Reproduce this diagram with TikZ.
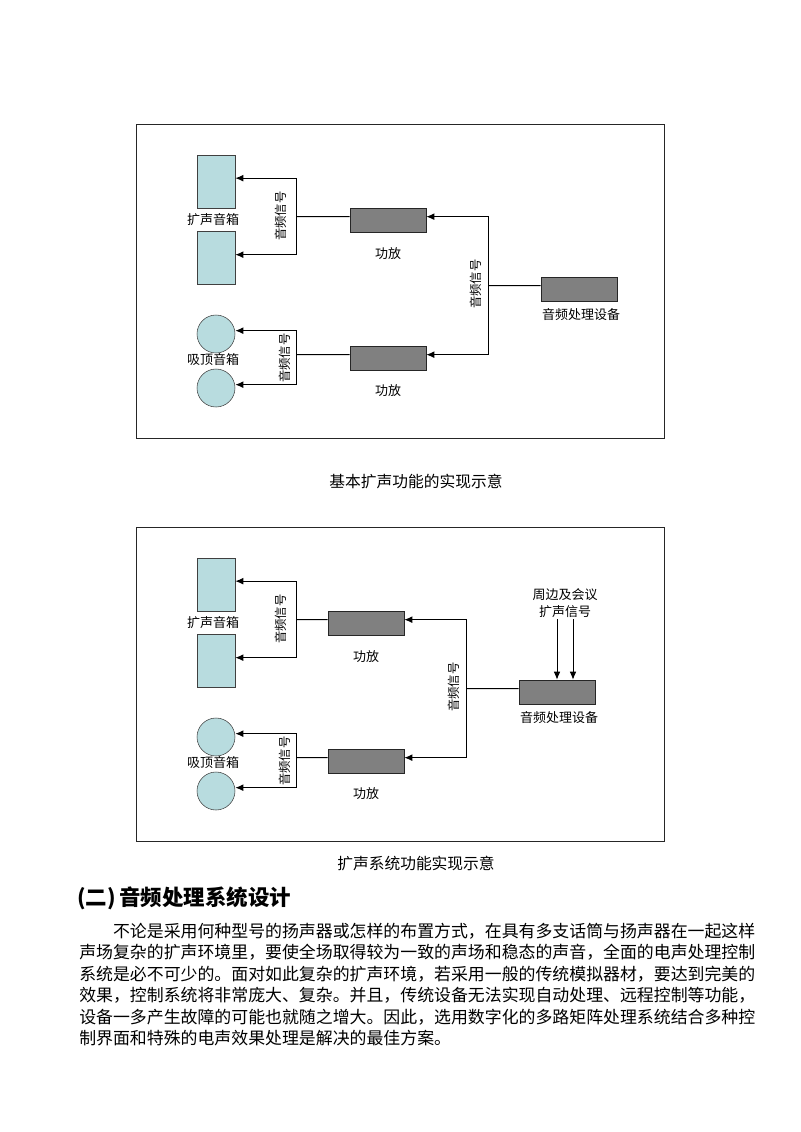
\documentclass[tikz,border=0pt]{standalone}
\usepackage{fontspec}
\newfontfamily\cjk{Noto Sans CJK SC}
\usepackage{xcolor}
\usetikzlibrary{arrows.meta}
\definecolor{boxcyan}{RGB}{184,220,223}
\definecolor{ampgray}{RGB}{128,128,128}

\begin{document}
\begin{tikzpicture}[x=0.75pt, y=-0.75pt,
  every node/.style={inner sep=0pt, font=\cjk\fontsize{9.75}{12.75}\selectfont},
  spk/.style={draw=black!75, fill=boxcyan, minimum width=28.5pt, minimum height=40pt},
  ceil/.style={circle, draw=black!75, fill=boxcyan, minimum size=28.5pt},
  amp/.style={draw=black!85, fill=ampgray, minimum width=57pt, minimum height=18pt},
  sig/.style={draw=black, line width=0.75pt, -{Latex[length=6pt,width=5pt]}},
  wire/.style={draw=black, line width=0.75pt},
  vlbl/.style={rotate=90, font=\cjk\fontsize{9.25}{10}\selectfont},
  capt/.style={font=\cjk\fontsize{11.8}{14}\selectfont},
  body/.style={anchor=west, font=\cjk\fontsize{12.675}{16}\selectfont}]
  \fill[white] (0,0) rectangle (800,1132);
  \useasboundingbox (0,0) rectangle (800,1132);

  % the two diagrams
  \foreach \k/\dx in {1/0, 2/-22} {
    \begin{scope}[shift={(0,{403*(\k-1)})}]
      \draw[black!85, line width=0.75pt] (136,124) rectangle (664,438);
      \node[spk] (spk\k a) at (216,181.5) {};
      \node[spk] (spk\k b) at (216,258) {};
      \node (lblspk\k) at (213,220) {扩声音箱};
      \node[ceil] (clg\k a) at (216,334) {};
      \node[ceil] (clg\k b) at (216,388) {};
      \node (lblclg\k) at (213,360) {吸顶音箱};
      \coordinate (up\k) at (296,216.67);
      \coordinate (lo\k) at (296,354.67);
      \node[vlbl] (sigup\k) at (281,216) {音频信号};
      \node[vlbl] (siglo\k) at (285,358) {音频信号};
      \begin{scope}[shift={(\dx,0)}]
        \node[amp] (amp\k a) at (388,220) {};
        \node[amp] (amp\k b) at (388,358) {};
        \node (lblamp\k a) at (388,254) {功放};
        \node (lblamp\k b) at (388,391) {功放};
        \node[amp] (dsp\k) at (579,289) {};
        \node (lbldsp\k) at (581,315) {音频处理设备};
        \coordinate (bus\k) at (488,285.67);
        \node[vlbl] (sigbus\k) at (476,284) {音频信号};
      \end{scope}
      \draw[sig] (up\k) |- ([yshift=2.5pt]spk\k a.east);
      \draw[sig] (up\k) |- ([yshift=2.5pt]spk\k b.east);
      \draw[sig] (lo\k) |- ([yshift=2.5pt]clg\k a.east);
      \draw[sig] (lo\k) |- ([yshift=2.5pt]clg\k b.east);
      \draw[wire] ([yshift=2.5pt]amp\k a.west) -- (up\k);
      \draw[wire] ([yshift=2.5pt]amp\k b.west) -- (lo\k);
      \draw[wire] ([yshift=2.5pt]dsp\k.west) -- (bus\k);
      \draw[sig] (bus\k) |- ([yshift=2.5pt]amp\k a.east);
      \draw[sig] (bus\k) |- ([yshift=2.5pt]amp\k b.east);
    \end{scope}
  }

  % extra inputs of the second diagram
  \node[align=center] (ext) at (565,603.5) {周边及会议\\扩声信号};
  \coordinate (in1) at (557,619);
  \coordinate (in2) at (573,619);
  \draw[sig] (in1) -- (in1 |- dsp2.north);
  \draw[sig] (in2) -- (in2 |- dsp2.north);

  \node[capt] (cap1) at (416,481) {基本扩声功能的实现示意};
  \node[capt] (cap2) at (416,863) {扩声系统功能实现示意};

  \node[anchor=west, font=\cjk\bfseries\fontsize{16.1}{18}\selectfont] (head) at (77,898) {(二)\,音频处理系统设计};
  \foreach \t [count=\i] in {
    {\hspace*{2em}不论是采用何种型号的扬声器或怎样的布置方式，在具有多支话筒与扬声器在一起这样},
    {声场复杂的扩声环境里，要使全场取得较为一致的声场和稳态的声音，全面的电声处理控制},
    {系统是必不可少的。面对如此复杂的扩声环境，若采用一般的传统模拟器材，要达到完美的},
    {效果，控制系统将非常庞大、复杂。并且，传统设备无法实现自动处理、远程控制等功能，},
    {设备一多产生故障的可能也就随之增大。因此，选用数字化的多路矩阵处理系统结合多种控},
    {制界面和特殊的电声效果处理是解决的最佳方案。}}
    \node[body] (txt\i) at (79,{931+21.5*(\i-1)}) {\t};
\end{tikzpicture}
\end{document}
